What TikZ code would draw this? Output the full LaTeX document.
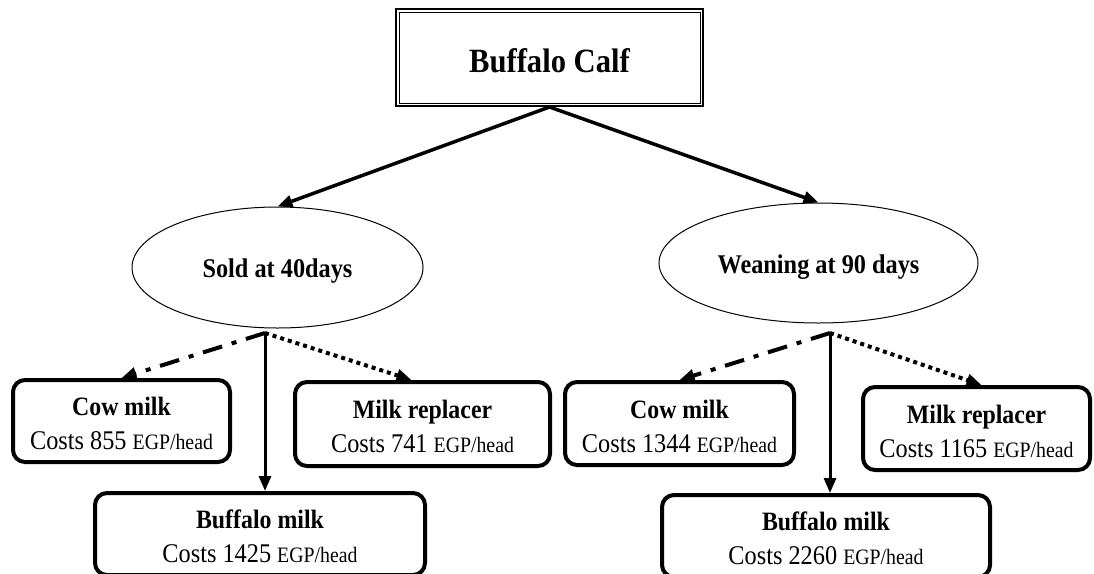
\documentclass[tikz,border=0pt]{standalone}
\usepackage{fontspec}
\setmainfont{Liberation Serif}[FakeStretch=0.9]
\usetikzlibrary{shapes.geometric,arrows.meta,calc}

% type sizes used in the option boxes
\newcommand\headfont{\fontsize{26.5}{34}\selectfont\bfseries}
\newcommand\costfont{\fontsize{27}{34}\selectfont}
\newcommand\unitfont{\fontsize{22}{34}\selectfont}
% heading line of an option box, with a strut that sets its top room
\newcommand\opthead[1]{\rule{0pt}{24pt}{\headfont #1}}

\begin{document}
\begin{tikzpicture}[x=1pt,y=-1pt,
  rootbox/.style={draw, line width=2pt, minimum width=307pt, minimum height=97pt,
    inner sep=0pt, text height=29.5pt, text depth=0pt,
    font=\fontsize{34}{38}\selectfont\bfseries},
  stage/.style={draw, ellipse, line width=1pt, inner sep=0pt,
    text height=20.5pt, text depth=0pt,
    font=\fontsize{27}{30}\selectfont\bfseries},
  choice/.style={draw, line width=4pt, rounded corners=12pt, align=center,
    inner sep=0pt, font=\costfont},
  tip/.style={-{Triangle[length=15pt,width=12pt]}},
  link/.style={line width=3.5pt, tip},
  solidlink/.style={line width=3pt, tip},
  dashdotlink/.style={line width=4pt, tip,
    dash pattern=on 20pt off 10pt on 5pt off 10pt},
  dottedlink/.style={line width=4pt, tip, dash pattern=on 4pt off 4pt}
]
\useasboundingbox (0,0) rectangle (1094,573);

% root box with its inner frame
\node[rootbox] (calf) at (549.5,57.5) {Buffalo Calf};
\draw[line width=1pt] ($(calf.north west)+(4,4)$) rectangle ($(calf.south east)+(-4,-4)$);

% stages
\node[stage, minimum width=291pt, minimum height=121pt] (sold) at (277.5,267.5) {Sold at 40days};
\node[stage, minimum width=319pt, minimum height=120pt] (wean) at (818.5,263) {Weaning at 90 days};

\draw[link] (calf.south) -- (sold.north);
\draw[link] (calf.south) -- (wean.north);

% feeding options, left branch
\node[choice, minimum width=217pt, minimum height=82pt] (cowL) at (121.5,421)
  {\opthead{Cow milk}\\Costs 855 {\unitfont EGP/head}};
\node[choice, minimum width=255pt, minimum height=84pt] (repL) at (422.5,424)
  {\opthead{Milk replacer}\\Costs 741 {\unitfont EGP/head}};
\node[choice, minimum width=330pt, minimum height=82pt] (bufL) at (260,534)
  {\opthead{Buffalo milk}\\Costs 1425 {\unitfont EGP/head}};

% feeding options, right branch
\node[choice, minimum width=229pt, minimum height=83pt] (cowR) at (679.5,423.5)
  {\opthead{Cow milk}\\Costs 1344 {\unitfont EGP/head}};
\node[choice, minimum width=227pt, minimum height=83pt] (repR) at (976.5,428.5)
  {\opthead{Milk replacer}\\Costs 1165 {\unitfont EGP/head}};
\node[choice, minimum width=328pt, minimum height=82pt] (bufR) at (826,536)
  {\opthead{Buffalo milk}\\Costs 2260 {\unitfont EGP/head}};

% branch points under the stages
\coordinate (jL) at (265,333);
\coordinate (jR) at (830,333);

\draw[dashdotlink] (jL) -- (cowL.north);
\draw[dottedlink] (jL) -- ([xshift=-11pt]repL.north);
\draw[solidlink] (jL) -- (jL |- bufL.north);

\draw[dashdotlink] (jR) -- (cowR.north);
\draw[dottedlink] (jR) -- ([xshift=5pt]repR.north);
\draw[solidlink] (jR) -- (jR |- bufR.north);
\end{tikzpicture}
\end{document}
